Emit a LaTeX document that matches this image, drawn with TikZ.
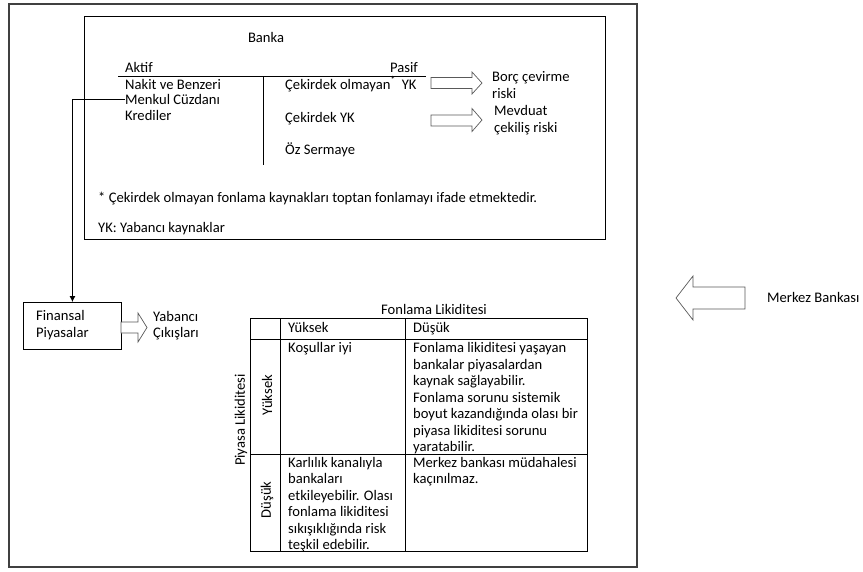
\documentclass[tikz,border=0pt]{standalone}
\usepackage{fontspec}
\setmainfont{Carlito}
\usetikzlibrary{arrows.meta}
\begin{document}
\begin{tikzpicture}[x=1pt,y=-1pt,
  every node/.style={inner sep=0pt, font=\fontsize{14.6}{16.5}\selectfont},
  lbl/.style={anchor=base west},
  multi/.style={anchor=north west, align=left},
  frame/.style={draw=black, line width=0.9pt},
  outerframe/.style={draw=black!75, line width=1.1pt},
  barrow/.style={draw=black!65, line width=0.7pt, fill=white, line join=miter},
  conn/.style={draw=black, line width=0.8pt},
  tline/.style={draw=black, line width=0.8pt}]
\useasboundingbox (0,0) rectangle (863,571);
% outer frame and bank frame
\draw[outerframe] (9,4) rectangle (637,567);
\draw[frame] (84,16) rectangle (605,239);

% bank balance sheet
\node[anchor=base] (banka) at (266,42.5) {Banka};
\node[lbl] (aktif) at (125,72.5) {Aktif};
\node[anchor=base east] (pasif) at (418,72.5) {Pasif};
\draw[tline] (118,76) -- (426,76);
\draw[tline] (263,76) -- (263,165);
\node[lbl] (nakit) at (125,89.5) {Nakit ve Benzeri};
\node[lbl] (menkul) at (125,104) {Menkul Cüzdanı};
\node[lbl] (krediler) at (125,120.5) {Krediler};
\node[lbl] (cek1) at (285,89) {Çekirdek olmayan\textsuperscript{*}\, YK};
\node[lbl] (cek2) at (285,122) {Çekirdek YK};
\node[lbl] (oz) at (285,154) {Öz Sermaye};

% block arrows to risks
\draw[barrow] (431,77.5) -- (472,77.5) -- (472,72) -- (482,83) -- (472,94) -- (472,88.5) -- (431,88.5) -- cycle;
\draw[barrow] (431,115) -- (472,115) -- (472,108.5) -- (482,120) -- (472,131.5) -- (472,126) -- (431,126) -- cycle;
\node[multi] (borc) at (492,81.5-12.5) {\rule{0pt}{12.5pt}Borç çevirme\\riski};
\node[multi] (mevduat) at (494,115.5-12.5) {\rule{0pt}{12.5pt}Mevduat\\çekiliş riski};

\node[lbl] (foot) at (98,202) {* Çekirdek olmayan fonlama kaynakları toptan fonlamayı ifade etmektedir.};
\node[lbl] (yk) at (98,232) {YK: Yabancı kaynaklar};

% financial markets
\node[frame, anchor=north west, minimum width=98pt, minimum height=47pt] (fin) at (23,302) {};
\node[multi] (fintxt) at (36,320.5-12.5) {\rule{0pt}{12.5pt}Finansal\\Piyasalar};
\draw[conn, -{Latex[length=6pt,width=6pt]}] (menkul.west) -| (fin.north);
\draw[barrow] (121,322) -- (138,322) -- (138,313) -- (147,327.5) -- (138,342) -- (138,333) -- (121,333) -- cycle;
\node[multi] (yabanci) at (153,321-12.5) {\rule{0pt}{12.5pt}Yabancı\\Çıkışları};

% central bank
\draw[barrow] (745,287) -- (693,287) -- (693,276) -- (676,298) -- (693,320) -- (693,309) -- (745,309) -- cycle;
\node[lbl] (merkez) at (767,302) {Merkez Bankası};

% liquidity table
\node[anchor=base] (fonl) at (434,314) {Fonlama Likiditesi};
\draw[tline] (250,318) rectangle (587,551);
\draw[tline] (280,318) -- (280,551);
\draw[tline] (405,318) -- (405,551);
\draw[tline] (250,339) -- (587,339);
\draw[tline] (250,454) -- (587,454);
\node[lbl] (hyuk) at (288,332.5) {Yüksek};
\node[lbl] (hdus) at (413,332.5) {Düşük};
\node[lbl] (c11) at (288,352.5) {Koşullar iyi};
\node[multi] (c12) at (413,352.5-12.5) {\rule{0pt}{12.5pt}Fonlama likiditesi yaşayan\\bankalar piyasalardan\\kaynak sağlayabilir.\\Fonlama sorunu sistemik\\boyut kazandığında olası bir\\piyasa likiditesi sorunu\\yaratabilir.};
\node[multi] (c21) at (288,467-12.5) {\rule{0pt}{12.5pt}Karlılık kanalıyla\\bankaları\\etkileyebilir. Olası\\fonlama likiditesi\\sıkışıklığında risk\\teşkil edebilir.};
\node[multi] (c22) at (413,467-12.5) {\rule{0pt}{12.5pt}Merkez bankası müdahalesi\\kaçınılmaz.};
\node[rotate=90] (ryuk) at (267,395) {Yüksek};
\node[rotate=90] (rdus) at (267,500) {Düşük};
\node[rotate=90] (piyasa) at (241,420) {Piyasa Likiditesi};
\end{tikzpicture}
\end{document}
